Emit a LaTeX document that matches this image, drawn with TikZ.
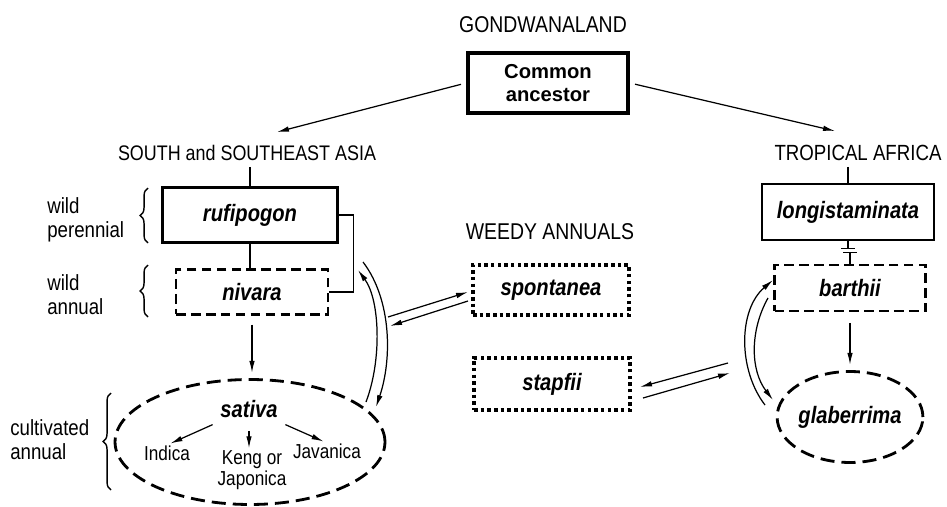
\documentclass[tikz,border=0pt]{standalone}
\usepackage{fontspec}
\setmainfont{Liberation Sans}
\newfontfamily\labelfont[FakeStretch=0.85]{Liberation Sans}
\usetikzlibrary{arrows.meta,decorations.pathreplacing,shapes.geometric,positioning}

\begin{document}
\begin{tikzpicture}[x=0.02cm,y=-0.02cm,
    species/.style={font=\labelfont\fontsize{13.5}{15}\selectfont\bfseries\itshape},
    box/.style={draw,species,line width=1.3pt,minimum width=3.5cm,minimum height=1.1cm},
    dashbox/.style={box,line width=1.5pt,dash pattern=on 5.5pt off 3pt},
    dotbox/.style={box,line width=2pt,dash pattern=on 2pt off 1.8pt},
    dashoval/.style={draw,ellipse,line width=1.6pt,dash pattern=on 8pt off 4pt,inner sep=0pt},
    region/.style={font=\labelfont\fontsize{12.5}{14}\selectfont},
    note/.style={font=\labelfont\fontsize{12.5}{13.5}\selectfont,align=left,anchor=west,inner sep=0pt},
    cultivar/.style={font=\labelfont\fontsize{11.5}{12}\selectfont,align=center,inner sep=1pt},
    arr/.style={-{Latex[length=2.4mm,width=1.1mm]},line width=.7pt},
    ln/.style={line width=.7pt},
    brc/.style={decorate,decoration={brace,amplitude=4.5pt},line width=.8pt}]
    \useasboundingbox (0,0) rectangle (947,507);

    % regions
    \node[region,font=\labelfont\fontsize{13}{14}\selectfont] (gond) at (543,25) {GONDWANALAND};
    \node[draw,line width=2.2pt,minimum width=3.2cm,minimum height=1.2cm,align=center,font=\fontsize{11.5}{13.5}\selectfont\bfseries] (anc) at (548,83) {Common\\ancestor};
    \node[region,font=\labelfont\fontsize{12}{14}\selectfont] (asia) at (247,153) {SOUTH and SOUTHEAST ASIA};
    \node[region] (africa) at (858,153) {TROPICAL AFRICA};
    \node[region,font=\labelfont\fontsize{13}{14}\selectfont] (weedy) at (550,232) {WEEDY ANNUALS};

    % Asian species
    \node[box] (rufi) at (250,215) {rufipogon};
    \node[dashbox,minimum width=3.04cm,minimum height=0.9cm] (niv) at (252,292) {nivara};
    \node[dashoval,minimum width=5.4cm,minimum height=2.5cm] (sat) at (250,442) {};
    \node[species] (sativa) at (249,409) {sativa};
    \node[cultivar] (indica) at (167,453) {Indica};
    \node[cultivar] (keng) at (252,470) {Keng or\\Japonica};
    \node[cultivar] (javan) at (327,451) {Javanica};

    % weedy annuals
    \node[dotbox,minimum width=3.12cm,minimum height=1.0cm] (spon) at (551,290) {spontanea};
    \node[dotbox,minimum width=3.12cm,minimum height=1.04cm] (stap) at (552,384) {stapfii};

    % African species
    \node[box,minimum width=3.44cm,minimum height=1.12cm] (longi) at (848,212) {longistaminata};
    \node[dashbox,minimum width=3.02cm,minimum height=0.92cm] (bart) at (850,288) {barthii};
    \node[dashoval,species,minimum width=2.88cm,minimum height=1.82cm] (glab) at (850,417) {glaberrima};

    % left-hand labels
    \node[note] (perl) at (47,220) {wild\\perennial};
    \node[note] (annl) at (47,295) {wild\\annual};
    \node[note] (cultl) at (10,440) {cultivated\\annual};
    \draw[brc] (148,243) -- (148,188);
    \draw[brc] (148,317) -- (148,265);
    \draw[brc] (111,490) -- (111,393);

    % free ends of the paired arrows
    \coordinate (satA) at (366,402);
    \coordinate (nivA) at (358,270);
    \coordinate (rufA) at (363,262);
    \coordinate (satB) at (376,407);
    \coordinate (nivS) at (388,317);
    \coordinate (sponW) at (468,292);
    \coordinate (sponV) at (468,301);
    \coordinate (nivT) at (390,326);
    \coordinate (glabN) at (728,363);
    \coordinate (stapE) at (640,387);
    \coordinate (stapF) at (643,398);
    \coordinate (glabM) at (730,373);
    \coordinate (glabW) at (765,405);
    \coordinate (bartW) at (773,280);
    \coordinate (bartV) at (768,298);
    \coordinate (glabV) at (773,400);

    % connectors
    \draw[arr,shorten <=3pt] (anc.west) -- ([xshift=0.6cm,yshift=0.14cm]asia.north);
    \draw[arr,shorten <=3pt] (anc.east) -- ([xshift=-0.46cm,yshift=0.16cm]africa.north);
    \draw[ln] (rufi.north |- asia.south) -- (rufi.north);
    \draw[ln] (longi.north |- africa.south) -- (longi.north);
    \draw[ln] (rufi.south) -- (rufi.south |- niv.north);
    \draw[ln] (rufi.east) -- ++(15,0) |- (niv.east);
    \draw[arr,shorten <=5pt,shorten >=3pt] (niv.south) -- (niv.south |- sat.north);
    \draw[arr,shorten <=1pt] (sativa.south west) -- (indica.70);
    \draw[arr,shorten <=4pt] (sativa.south) -- (sativa.south |- keng.north);
    \draw[arr,shorten <=1pt] (sativa.south east) -- (javan.110);
    \draw[arr] (satA) .. controls (382,360) and (380,300) .. (nivA);
    \draw[arr] (rufA) .. controls (392,300) and (392,360) .. (satB);
    \draw[arr] (nivS) -- (sponW);
    \draw[arr] (sponV) -- (nivT);
    \draw[arr] (glabN) -- (stapE);
    \draw[arr] (stapF) -- (glabM);
    \draw[arr] (glabW) .. controls (738,370) and (738,310) .. (bartW);
    \draw[arr] (bartV) .. controls (750,330) and (750,370) .. (glabV);
    \draw[ln] (longi.south) -- ++(0,7) ++(-7,0) -- ++(14,0);
    \draw[ln] (bart.north) -- ++(0,-11) ++(-7,0) -- ++(14,0);
    \draw[arr,shorten <=6pt,shorten >=3pt] (bart.south) -- (bart.south |- glab.north);
\end{tikzpicture}
\end{document}
